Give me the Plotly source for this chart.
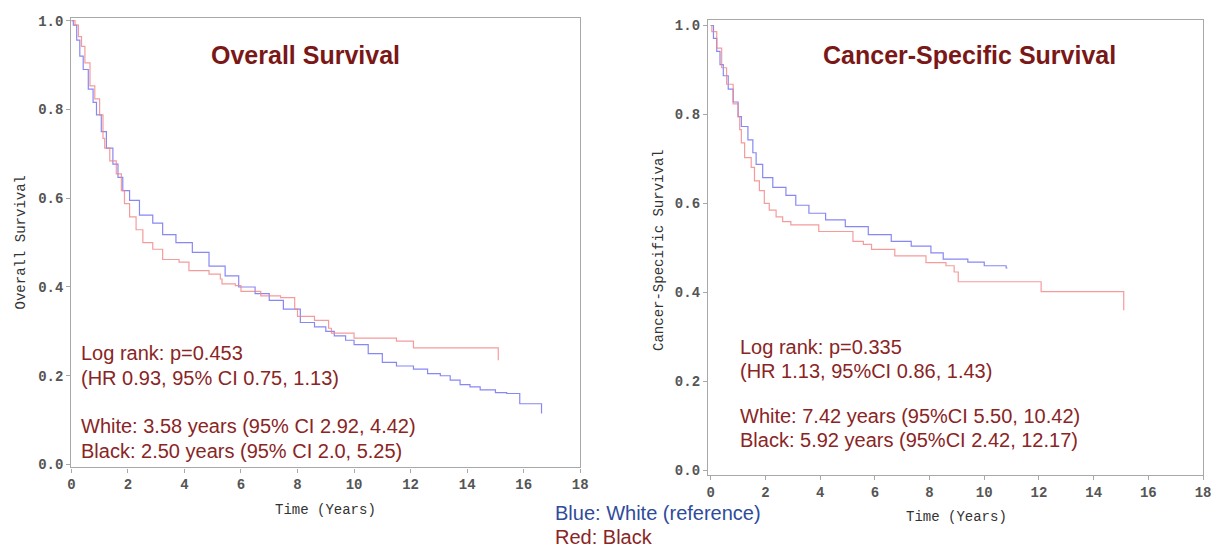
import plotly.graph_objects as go

W, H = 1217, 553

# ---- data ----
os_white_t = [0, 0.07, 0.19, 0.30, 0.42, 0.60, 0.77, 0.89, 1.06, 1.24, 1.47, 1.65, 1.82, 2.06, 2.41, 2.88, 3.23,
              3.7, 4.28, 4.87, 5.44, 5.92, 6.5, 7.0, 7.5, 8.1, 8.6, 9.0, 9.3, 9.7, 10.0, 10.5, 11.0,
              11.5, 12.1, 12.6, 13.05, 13.4, 13.75, 14.1, 14.46, 15.0, 15.4, 15.86, 16.63]
os_white_s = [1.0, 0.99, 0.956, 0.92, 0.89, 0.846, 0.816, 0.788, 0.75, 0.713, 0.677, 0.647, 0.617, 0.595, 0.562, 0.544, 0.518,
              0.50, 0.478, 0.447, 0.425, 0.40, 0.385, 0.37, 0.35, 0.32, 0.31, 0.30, 0.29, 0.28, 0.27, 0.25, 0.23,
              0.222, 0.215, 0.205, 0.20, 0.19, 0.18, 0.175, 0.168, 0.162, 0.16, 0.137, 0.115]

os_black_t = [0, 0.13, 0.25, 0.36, 0.48, 0.66, 0.83, 1.0, 1.12, 1.18, 1.36, 1.59, 1.77, 1.88, 2.06, 2.29, 2.53,
              2.88, 3.23, 3.81, 4.16, 4.87, 5.27, 5.33, 5.8, 6.0, 6.7, 7.4, 7.9, 8.0, 8.6, 9.1, 9.2, 10.0,
              11.5, 12.1, 15.1]
os_black_s = [1.0, 0.99, 0.964, 0.942, 0.905, 0.853, 0.824, 0.788, 0.735, 0.713, 0.684, 0.655, 0.617, 0.588, 0.558, 0.529, 0.50,
              0.485, 0.462, 0.456, 0.437, 0.429, 0.418, 0.407, 0.403, 0.39, 0.38, 0.376, 0.35, 0.334, 0.325, 0.307, 0.296, 0.285,
              0.278, 0.263, 0.235]

css_white_t = [0, 0.1, 0.22, 0.34, 0.46, 0.64, 0.82, 1.0, 1.12, 1.36, 1.54, 1.66, 1.9, 2.27, 2.75, 3.11, 3.59, 4.2,
               4.92, 5.76, 6.6, 7.33, 8.05, 8.5, 9.4, 10.0, 10.8, 10.85]
css_white_s = [1.0, 0.971, 0.942, 0.912, 0.887, 0.857, 0.828, 0.795, 0.773, 0.743, 0.714, 0.688, 0.658, 0.636, 0.618, 0.596, 0.578, 0.563,
               0.548, 0.530, 0.515, 0.504, 0.489, 0.475, 0.468, 0.46, 0.455, 0.455]

css_black_t = [0, 0.04, 0.22, 0.4, 0.58, 0.82, 1.0, 1.06, 1.12, 1.24, 1.48, 1.6, 1.78, 1.96, 2.14, 2.39, 2.63, 2.93,
               3.95, 5.2, 5.58, 5.88, 6.73, 7.87, 8.6, 8.9, 9.05, 12.08, 15.1]
css_black_s = [1.0, 0.986, 0.949, 0.905, 0.868, 0.824, 0.795, 0.766, 0.736, 0.703, 0.681, 0.651, 0.629, 0.600, 0.585, 0.570, 0.559, 0.552,
               0.537, 0.515, 0.508, 0.497, 0.482, 0.467, 0.46, 0.446, 0.424, 0.402, 0.36]

x_ticks = [0, 2, 4, 6, 8, 10, 12, 14, 16, 18]
y_ticks = [0.0, 0.2, 0.4, 0.6, 0.8, 1.0]

titles = ["Overall Survival", "Cancer-Specific Survival"]
y_titles = ["Overall Survival", "Cancer-Specific Survival"]
x_title = "Time (Years)"
left_notes = ["Log rank: p=0.453", "(HR 0.93, 95% CI 0.75, 1.13)",
              "White: 3.58 years (95% CI 2.92, 4.42)", "Black: 2.50 years (95% CI 2.0, 5.25)"]
right_notes = ["Log rank: p=0.335", "(HR 1.13, 95%CI 0.86, 1.43)",
               "White: 7.42 years (95%CI 5.50, 10.42)", "Black: 5.92 years (95%CI 2.42, 12.17)"]
legend_lines = ["Blue: White (reference)", "Red: Black"]

BLUE = "rgba(115,115,242,0.85)"
RED = "rgba(242,130,130,0.8)"
DARKRED = "#8a2525"
TITLERED = "#7a1717"

fig = go.Figure()
fig.add_trace(go.Scatter(x=os_white_t, y=os_white_s, mode="lines", line=dict(color=BLUE, width=1.2, shape="hv"),
                         xaxis="x", yaxis="y", showlegend=False))
fig.add_trace(go.Scatter(x=os_black_t, y=os_black_s, mode="lines", line=dict(color=RED, width=1.2, shape="hv"),
                         xaxis="x", yaxis="y", showlegend=False))
fig.add_trace(go.Scatter(x=css_white_t, y=css_white_s, mode="lines", line=dict(color=BLUE, width=1.2, shape="hv"),
                         xaxis="x2", yaxis="y2", showlegend=False))
fig.add_trace(go.Scatter(x=css_black_t, y=css_black_s, mode="lines", line=dict(color=RED, width=1.2, shape="hv"),
                         xaxis="x2", yaxis="y2", showlegend=False))

tickfont = dict(family="Liberation Mono", size=14, color="#555555", weight="bold")
axcommon = dict(showline=True, mirror=True, linecolor="#a8a8a8", linewidth=1.2, ticks="outside", ticklen=4,
                tickcolor="#a8a8a8", showgrid=False, zeroline=False, tickfont=tickfont, fixedrange=True)

fig.update_layout(
    width=W, height=H, margin=dict(l=0, r=0, t=0, b=0),
    paper_bgcolor="white", plot_bgcolor="white",
    xaxis=dict(domain=[68 / W, 582 / W], range=[0, 18], tickvals=x_ticks, anchor="y", **axcommon),
    yaxis=dict(domain=[1 - 472 / H, 1 - 14 / H], range=[-0.0066, 1.0066], tickvals=y_ticks, tickformat=".1f",
               anchor="x", **axcommon),
    xaxis2=dict(domain=[711 / W, 1211 / W], range=[-0.1, 18], tickvals=x_ticks, anchor="y2", **axcommon),
    yaxis2=dict(domain=[1 - 480 / H, 1 - 16 / H], range=[-0.011, 1.013], tickvals=y_ticks, tickformat=".1f",
                anchor="x2", **axcommon),
)

ann = []
def px(x, y, text, size, color, family="Liberation Sans", xanchor="left", bold=False, angle=0):
    ann.append(dict(x=x / W, y=1 - y / H, xref="paper", yref="paper", text=("<b>%s</b>" % text) if bold else text,
                    showarrow=False, xanchor=xanchor, yanchor="middle", textangle=angle,
                    font=dict(family=family, size=size, color=color)))

px(305, 52, titles[0], 25, TITLERED, xanchor="center", bold=True)
px(975, 52, titles[1], 25, TITLERED, xanchor="center", bold=True)
px(17, 243, y_titles[0], 14, "#333333", family="Liberation Mono", xanchor="center", angle=-90)
px(662, 250, y_titles[1], 14, "#333333", family="Liberation Mono", xanchor="center", angle=-90)
px(325, 515, x_title, 14, "#333333", family="Liberation Mono", xanchor="center")
px(962, 522, x_title, 14, "#333333", family="Liberation Mono", xanchor="center")
for yy, t in zip([355, 381, 430, 455], left_notes):
    px(76, yy, t, 20, DARKRED)
for yy, t in zip([349, 374, 420, 444], right_notes):
    px(741, yy, t, 20, DARKRED)
px(554, 518, legend_lines[0], 20, "#2f4b9b")
px(554, 543, legend_lines[1], 20, DARKRED)

fig.update_layout(annotations=ann)
fig.write_html("out.html", config={"displayModeBar": False},
               post_script="document.body.style.margin='0px';document.body.style.padding='0px';document.body.style.overflow='hidden';")
